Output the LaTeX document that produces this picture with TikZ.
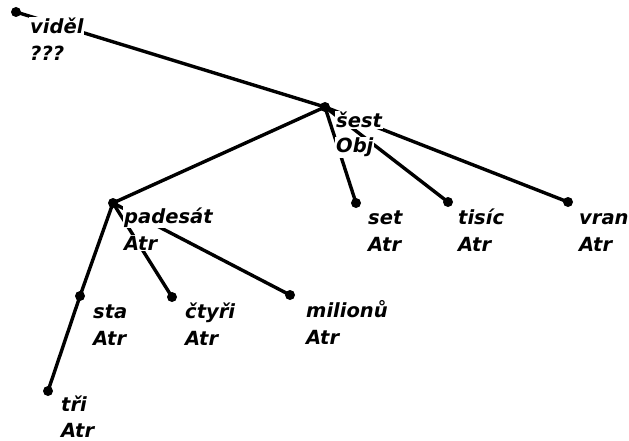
\documentclass[tikz,border=0pt]{standalone}
\usepackage{fontspec}
\setmainfont{DejaVu Sans}
\begin{document}
\begin{tikzpicture}[x=1pt,y=-1pt,
  dot/.style={circle,fill=black,inner sep=0pt,minimum size=10pt},
  lab/.style={anchor=base west,fill=white,inner sep=1pt,
    font=\fontsize{19.5}{26}\selectfont\bfseries\itshape},
  edge/.style={line width=3.4pt}]
\useasboundingbox (0,0) rectangle (629,441);
% dots
\node[dot] (n0) at (16,12) {};
\node[dot] (n1) at (325,107) {};
\node[dot] (n2) at (113,203) {};
\node[dot] (n3) at (356,203) {};
\node[dot] (n4) at (448,202) {};
\node[dot] (n5) at (568,202) {};
\node[dot] (n6) at (80,296) {};
\node[dot] (n7) at (172,297) {};
\node[dot] (n8) at (290,295) {};
\node[dot] (n9) at (48,391) {};
% edges
\draw[edge] (n0.center) -- (n1.center);
\draw[edge] (n1.center) -- (n2.center);
\draw[edge] (n1.center) -- (n3.center);
\draw[edge] (n1.center) -- (n4.center);
\draw[edge] (n1.center) -- (n5.center);
\draw[edge] (n2.center) -- (n6.center);
\draw[edge] (n2.center) -- (n7.center);
\draw[edge] (n2.center) -- (n8.center);
\draw[edge] (n6.center) -- (n9.center);
% labels: word form and functor
\node[lab] (l0a) at (29,34) {viděl};
\node[lab] (l0b) at (29,61) {???};
\node[lab] (l1a) at (335,128) {šest};
\node[lab] (l1b) at (335,153) {Obj};
\node[lab] (l2a) at (123,223) {padesát};
\node[lab] (l2b) at (123,250) {Atr};
\node[lab] (l3a) at (367,224) {set};
\node[lab] (l3b) at (367,251) {Atr};
\node[lab] (l4a) at (457,224) {tisíc};
\node[lab] (l4b) at (457,251) {Atr};
\node[lab] (l5a) at (578,224) {vran};
\node[lab] (l5b) at (578,251) {Atr};
\node[lab] (l6a) at (92,318) {sta};
\node[lab] (l6b) at (92,345) {Atr};
\node[lab] (l7a) at (184,318) {čtyři};
\node[lab] (l7b) at (184,345) {Atr};
\node[lab] (l8a) at (305,317) {milionů};
\node[lab] (l8b) at (305,344) {Atr};
\node[lab] (l9a) at (60,411) {tři};
\node[lab] (l9b) at (60,437) {Atr};
\end{tikzpicture}
\end{document}
